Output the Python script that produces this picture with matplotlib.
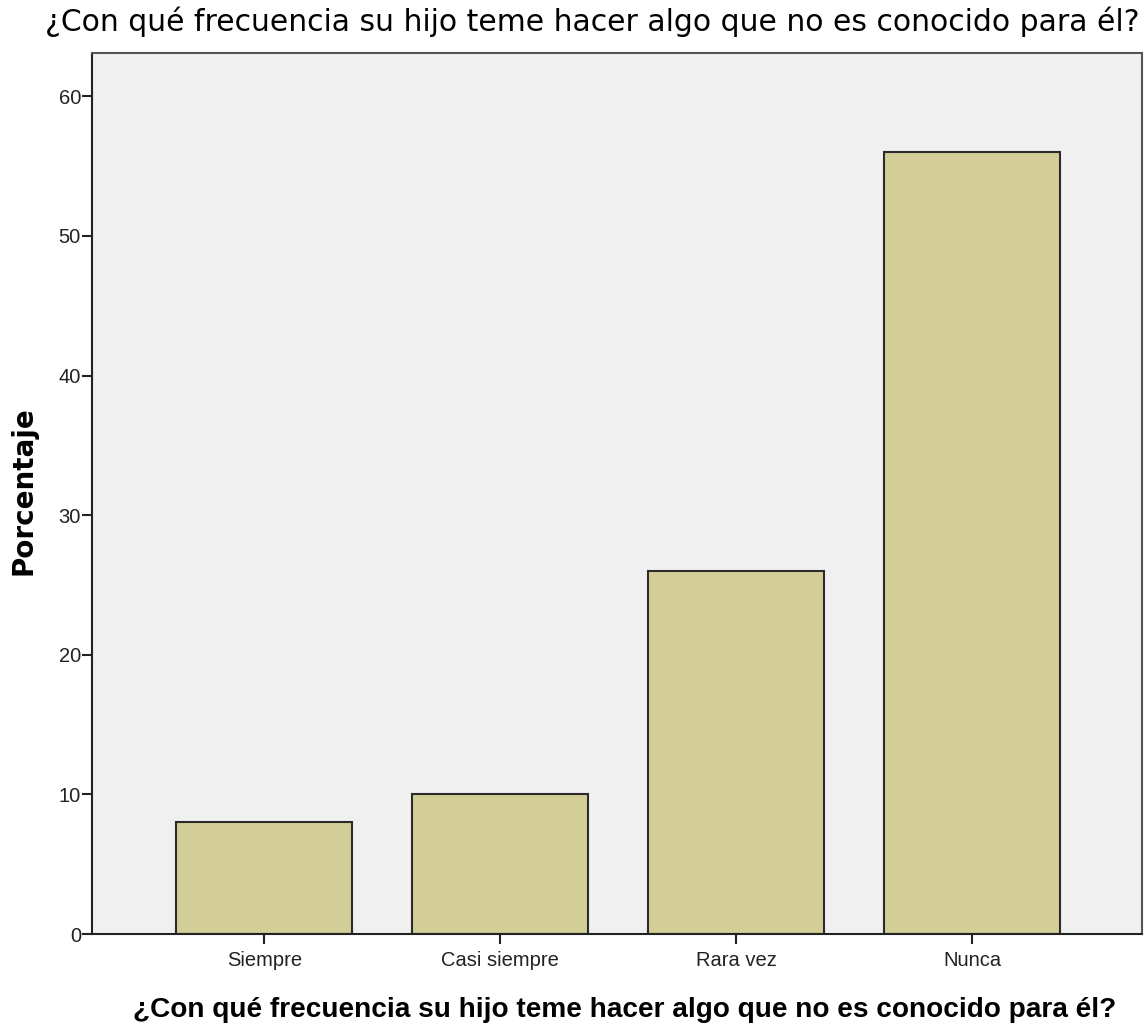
import matplotlib
matplotlib.use("Agg")
from matplotlib import pyplot as plt

categorias = ["Siempre", "Casi siempre", "Rara vez", "Nunca"]
porcentaje = [8, 10, 26, 56]
titulo = "¿Con qué frecuencia su hijo teme hacer algo que no es conocido para él?"

plt.rcParams['font.family'] = ['Liberation Sans', 'DejaVu Sans']

fig = plt.figure(figsize=(11.45, 10.31), dpi=100)
ax = fig.add_axes([92 / 1145, 97 / 1031, 1050 / 1145, 881 / 1031])
ax.set_facecolor("#f0f0f0")

x = range(len(categorias))
ax.bar(x, porcentaje, width=0.744, color="#d3ce97", edgecolor="#2b2b2b", linewidth=1.5, zorder=2)

ax.set_xlim(-0.73, 3.72)
ax.set_ylim(0, 63.1)
ax.set_yticks([0, 10, 20, 30, 40, 50, 60])
ax.set_xticks(list(x))
ax.set_xticklabels(categorias)
ax.tick_params(axis="both", direction="out", length=7, width=1.5, labelsize=14.5, colors="#222222")
ax.tick_params(axis="y", pad=1)
ax.tick_params(axis="x", pad=5)

for s in ax.spines.values():
    s.set_linewidth(1.5)
    s.set_color("#555555")
ax.spines["left"].set_color("#222222")
ax.spines["bottom"].set_color("#222222")

ax.set_ylabel("Porcentaje", fontsize=20, fontweight="bold", family="DejaVu Sans", labelpad=15)
ax.yaxis.label.set_y(0.503)
ax.set_xlabel(titulo, fontsize=20.2, fontweight="bold", labelpad=20)
ax.xaxis.label.set_x(0.507)
fig.text(0.5 * (45 + 1140) / 1145, 1 - 22 / 1031, titulo, ha="center", va="center",
         fontsize=21.5, family="DejaVu Sans")

fig.savefig("out.png", dpi=100)
